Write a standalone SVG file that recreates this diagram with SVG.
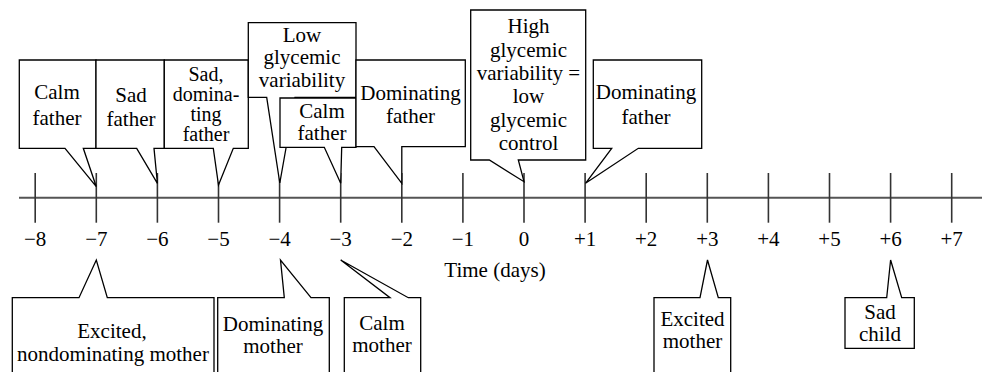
<svg xmlns="http://www.w3.org/2000/svg" width="982" height="372" viewBox="0 0 982 372">
<style>
.box{fill:#fff;stroke:#000;stroke-width:1.3;stroke-linejoin:miter}
text{font-family:"Liberation Serif","Times New Roman",Times,Tinos,"DejaVu Serif","Noto Serif",FreeSerif,serif;font-size:21px;fill:#000;text-anchor:middle}
.tight{font-size:20px}
.tick{stroke:#333;stroke-width:1.6}
.ax{stroke:#555;stroke-width:2}
</style>
<rect width="982" height="372" fill="#fff"/>
<g id="axis">
<line class="ax" x1="19" y1="197.7" x2="982" y2="197.7"/>
<g class="tick">
<line x1="35.2" y1="173" x2="35.2" y2="222.7"/>
<line x1="96.3" y1="173" x2="96.3" y2="222.7"/>
<line x1="157.4" y1="173" x2="157.4" y2="222.7"/>
<line x1="218.5" y1="173" x2="218.5" y2="222.7"/>
<line x1="279.6" y1="173" x2="279.6" y2="222.7"/>
<line x1="340.7" y1="173" x2="340.7" y2="222.7"/>
<line x1="401.8" y1="173" x2="401.8" y2="222.7"/>
<line x1="462.9" y1="173" x2="462.9" y2="222.7"/>
<line x1="524" y1="173" x2="524" y2="222.7"/>
<line x1="585.1" y1="173" x2="585.1" y2="222.7"/>
<line x1="646.2" y1="173" x2="646.2" y2="222.7"/>
<line x1="707.3" y1="173" x2="707.3" y2="222.7"/>
<line x1="768.4" y1="173" x2="768.4" y2="222.7"/>
<line x1="829.5" y1="173" x2="829.5" y2="222.7"/>
<line x1="890.6" y1="173" x2="890.6" y2="222.7"/>
<line x1="951.7" y1="173" x2="951.7" y2="222.7"/>
</g>
<g id="tick-labels">
<text x="35.2" y="246">−8</text>
<text x="96.3" y="246">−7</text>
<text x="157.4" y="246">−6</text>
<text x="218.5" y="246">−5</text>
<text x="279.6" y="246">−4</text>
<text x="340.7" y="246">−3</text>
<text x="401.8" y="246">−2</text>
<text x="462.9" y="246">−1</text>
<text x="524" y="246">0</text>
<text x="585.1" y="246">+1</text>
<text x="646.2" y="246">+2</text>
<text x="707.3" y="246">+3</text>
<text x="768.4" y="246">+4</text>
<text x="829.5" y="246">+5</text>
<text x="890.6" y="246">+6</text>
<text x="951.7" y="246">+7</text>
</g>
<text x="495" y="277">Time (days)</text>
</g>
<g id="connectors"></g>
<g id="calm-father-m7">
<path class="box" d="M19.3,60 H96 V148.3 H83.3 L96.3,186.7 L65,148.3 H19.3 Z"/>
<text x="57" y="99.3">Calm</text>
<text x="57" y="125">father</text>
</g>
<g id="sad-father-m6">
<path class="box" d="M96,60 H164.3 V148.3 H154 L157.4,183.3 L136.7,148.3 H96 Z"/>
<text x="131" y="101.7">Sad</text>
<text x="131" y="125.5">father</text>
</g>
<g id="sad-dominating-father-m5">
<path class="box" d="M164.3,60 H248.3 V148.3 H233.3 L218.5,185 L213.3,148.3 H164.3 Z"/>
<text class="tight" x="206" y="80.7">Sad,</text>
<text class="tight" x="206" y="100.7">domina-</text>
<text class="tight" x="206" y="121">ting</text>
<text class="tight" x="206" y="141">father</text>
</g>
<g id="low-glycemic-variability-m4">
<path class="box" d="M248.3,22.7 H356 V97.3 H295 L279.8,183 L266.7,97.3 H248.3 Z"/>
<text x="302" y="41.7">Low</text>
<text x="302" y="64.3">glycemic</text>
<text x="302" y="87.3">variability</text>
</g>
<g id="calm-father-m3">
<path class="box" d="M280,98 H356 V147.3 H341.7 L340.7,183.3 L324.3,147.3 H280 Z"/>
<text x="322" y="117.8">Calm</text>
<text x="322" y="140.1">father</text>
</g>
<g id="dominating-father-m2">
<path class="box" d="M356,60 H465.3 V146.7 H401.8 V183.3 L374,146.7 H356 Z"/>
<text x="410.5" y="100">Dominating</text>
<text x="410.5" y="123.3">father</text>
</g>
<g id="high-glycemic-variability-0">
<path class="box" d="M470.7,10 H585.7 V160 H518.3 L524,181.7 L489.3,160 H470.7 Z"/>
<text x="528.5" y="33.3">High</text>
<text x="528.5" y="56.7">glycemic</text>
<text x="528.5" y="80">variability =</text>
<text x="528.5" y="103.3">low</text>
<text x="528.5" y="126.7">glycemic</text>
<text x="528.5" y="150">control</text>
</g>
<g id="dominating-father-p1">
<path class="box" d="M593.3,60 H701.7 V148.3 H638.3 L585.5,183.3 L611.7,148.3 H593.3 Z"/>
<text x="646" y="99.3">Dominating</text>
<text x="646" y="124">father</text>
</g>
<g id="excited-nondominating-mother-m7">
<path class="box" d="M12.3,380 V297.7 H79 L96.3,260 L107.3,297.7 H214 V380 Z"/>
<text x="112" y="338.3">Excited,</text>
<text x="113" y="360.7">nondominating mother</text>
</g>
<g id="dominating-mother-m4">
<path class="box" d="M217.7,380 V297.7 H284.3 L280.5,260 L311,297.7 H329.3 V380 Z"/>
<text x="273" y="331">Dominating</text>
<text x="273" y="353.3">mother</text>
</g>
<g id="calm-mother-m3">
<path class="box" d="M344.3,380 V297.7 H390 L340.7,260 L408.3,297.7 H420.7 V380 Z"/>
<text x="382" y="329.5">Calm</text>
<text x="382" y="351.8">mother</text>
</g>
<g id="excited-mother-p3">
<path class="box" d="M654,380 V297.7 H700 L707.5,260 L718.3,297.7 H730.7 V380 Z"/>
<text x="692.5" y="325.8">Excited</text>
<text x="692.5" y="348.1">mother</text>
</g>
<g id="sad-child-p6">
<path class="box" d="M845,348.3 V297.7 H886.7 L890.6,260 L901.7,297.7 H914.3 V348.3 Z"/>
<text x="880" y="318.5">Sad</text>
<text x="880" y="340.8">child</text>
</g>
</svg>
